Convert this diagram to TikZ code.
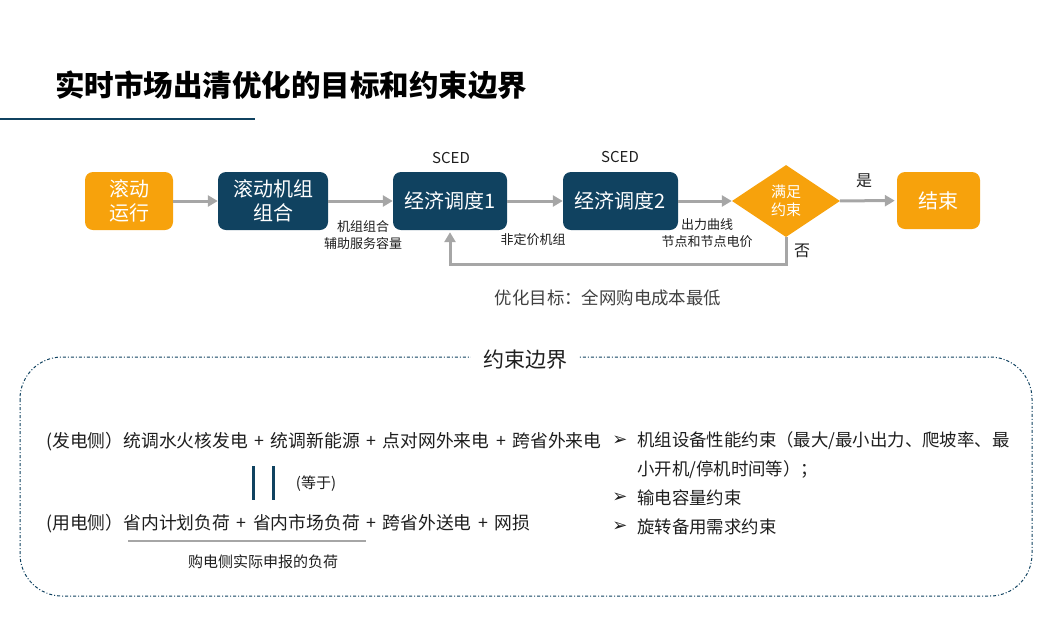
\documentclass[tikz,border=0pt]{standalone}
\usepackage{fontspec}
\setmainfont{Noto Sans CJK SC}
\newfontfamily\dingfont{DejaVu Sans}
\usetikzlibrary{shapes.geometric,arrows.meta,positioning}
\definecolor{chengse}{RGB}{247,162,12}
\definecolor{shenlan}{RGB}{16,66,96}
\definecolor{jiantou}{RGB}{166,166,166}
\definecolor{wenzi}{RGB}{30,30,30}
\definecolor{huiwen}{RGB}{64,64,64}
\newcommand{\zihao}[1]{\fontsize{#1}{\dimexpr #1pt*12/10\relax}\selectfont}
\newcommand{\jia}{\hspace{6.5pt}+\hspace{6.5pt}}

\begin{document}
\begin{tikzpicture}[x=1pt, y=-1pt, >={Triangle[length=10pt,width=11pt]},
	kuang/.style={rounded corners=8pt, text=white, align=center, inner sep=0pt,
		minimum height=58pt, font=\fontsize{20}{24}\selectfont},
	jt/.style={jiantou, line width=3pt},
	biaozhu/.style={text=wenzi, align=center, inner sep=0pt, font=\fontsize{13}{16.5}\selectfont},
	zhengwen/.style={text=wenzi, anchor=west, inner sep=0pt, font=\fontsize{17.4}{20}\selectfont},
	jiantouhao/.style={text=wenzi, inner sep=0pt, font=\dingfont\zihao{18}}]
	\useasboundingbox (0,0) rectangle (1052,625);
	
	% 标题
	\node[anchor=west, inner sep=0pt, font=\fontsize{29.5}{34}\selectfont\bfseries] (biaoti) at (55,85) {实时市场出清优化的目标和约束边界};
	\draw[shenlan, line width=2pt] (0,119) -- (255,119);
	
	% 流程图
	\node[kuang, fill=chengse, minimum width=88pt] (gundong) at (129,201) {滚动\\运行};
	\node[kuang, fill=shenlan, minimum width=110pt] (jizu) at (273,201) {滚动机组\\组合};
	\node[kuang, fill=shenlan, minimum width=114pt] (ed1) at (450,201) {经济调度1};
	\node[kuang, fill=shenlan, minimum width=115pt] (ed2) at (620.5,201) {经济调度2};
	\node[diamond, fill=chengse, text=white, align=center, inner sep=0pt, aspect=1.5,
		minimum width=108pt, minimum height=72pt, font=\zihao{15}] (panduan) at (786,201) {满足\\约束};
	\node[kuang, fill=chengse, minimum width=83pt, minimum height=57pt] (jieshu) at (938.5,200.5) {结束};
	
	\node[biaozhu, font=\zihao{15}] (sced1) at (451,158) {SCED};
	\node[biaozhu, font=\zihao{15}] (sced2) at (620,157) {SCED};
	
	\draw[jt,->] (gundong) -- (jizu);
	\draw[jt,->] (jizu) -- (ed1);
	\draw[jt,->] (ed1) -- (ed2);
	\draw[jt,->] (ed2) -- (panduan);
	\draw[jt,->, shorten >=2pt] (panduan) -- (jieshu);
	\draw[jt,->, shorten >=2pt] (panduan.south) -- ++(0,27) -| (ed1.south);
	
	\node[biaozhu] (bz1) at (363,235) {机组组合\\辅助服务容量};
	\node[biaozhu] (bz2) at (533,240) {非定价机组};
	\node[biaozhu] (bz3) at (707,233) {出力曲线\\节点和节点电价};
	\node[biaozhu, font=\zihao{16}] (shi) at (864,181) {是};
	\node[biaozhu, font=\zihao{16}] (fou) at (802,251) {否};
	
	\node[biaozhu, text=huiwen, font=\zihao{17.4}] (mubiao) at (608,298) {优化目标：全网购电成本最低};
	
	% 约束边界
	\draw[shenlan, line width=1pt, dash dot, rounded corners=42pt] (20,357) rectangle (1032,596);
	\node[fill=white, inner xsep=12pt, inner ysep=2pt, text=wenzi, font=\zihao{21}] (ysbj) at (525,360) {约束边界};
	
	\node[zhengwen, font=\zihao{17.8}] (fadian) at (46,442) {(发电侧）统调水火核发电\jia 统调新能源\jia 点对网外来电\jia 跨省外来电};
	\draw[shenlan, line width=3pt] (253,466) -- (253,500);
	\draw[shenlan, line width=3pt] (273,466) -- (273,500);
	\node[biaozhu, font=\zihao{15}] (dengyu) at (316,484) {(等于)};
	\node[zhengwen, font=\zihao{17.8}] (yongdian) at (46,524) {(用电侧）省内计划负荷\jia 省内市场负荷\jia 跨省外送电\jia 网损};
	\draw[jiantou, line width=2.5pt] (128,541) -- (366,541);
	\node[biaozhu, font=\zihao{15}] (goudian) at (263,562) {购电侧实际申报的负荷};
	
	\node[jiantouhao] (d1) at (620,441) {➢};
	\node[zhengwen] (ys1) at (637,441) {机组设备性能约束（最大/最小出力、爬坡率、最};
	\node[zhengwen] (ys1b) at (637,470) {小开机/停机时间等）；};
	\node[jiantouhao] (d2) at (620,498) {➢};
	\node[zhengwen] (ys2) at (637,498) {输电容量约束};
	\node[jiantouhao] (d3) at (620,527) {➢};
	\node[zhengwen] (ys3) at (637,527) {旋转备用需求约束};
\end{tikzpicture}
\end{document}
